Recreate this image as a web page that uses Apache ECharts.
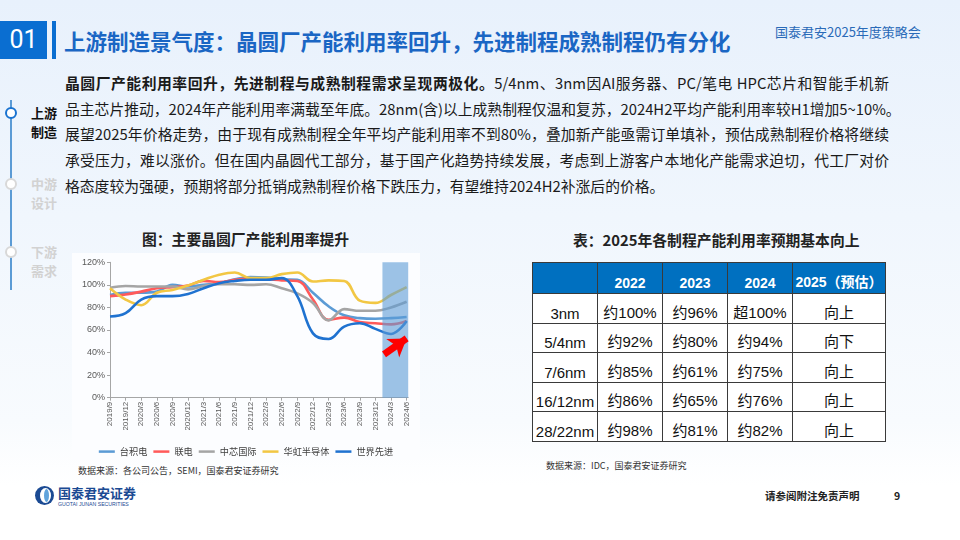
<!DOCTYPE html>
<html>
<head>
<meta charset="utf-8">
<script src="https://cdn.jsdelivr.net/npm/echarts@6/dist/echarts.min.js"></script>
<style>
  body {
    margin: 0;
    width: 960px;
    height: 540px;
    overflow: hidden;
    position: relative;
    font-family: "Noto Sans CJK SC", "Noto Sans", sans-serif;
    background: linear-gradient(180deg, #e8f1fc 0%, #f0f6fd 40%, #f8fbfe 78%, #ffffff 90%);
  }
  .abs { position: absolute; white-space: nowrap; }
  .num-box {
    left: 0; top: 21px; width: 47px; height: 38px;
    background: #0a6ed1; color: #fff;
    font-family: Roboto, "Noto Sans", sans-serif; font-size: 25px;
    line-height: 38px; text-align: center;
  }
  .bar { left: 52px; top: 21px; width: 4px; height: 38px; background: #0a6ed1; }
  .title { left: 64px; top: 26px; font-size: 21.5px; font-weight: 700; color: #1a66c4; line-height: 30px; }
  .event { left: 775px; top: 23px; font-size: 13px; color: #2a6ab8; line-height: 18px; }

  .side-line { left: 10px; top: 100px; width: 2px; height: 190px; background: #5b9bd5; }
  .dot { width: 8px; height: 8px; border-radius: 50%; background: #fff; }
  .side-label { left: 31px; font-size: 13px; font-weight: 700; line-height: 19px; white-space: normal; width: 28px; }

  .para { left: 65px; font-size: 14.8px; color: #1a1a1a; line-height: 20px; }
  .just { width: 824px; text-align: justify; text-align-last: justify; }

  .cap { font-size: 14.8px; font-weight: 700; color: #222; line-height: 20px; }
  .src { font-size: 9px; color: #333; line-height: 12px; }

  table.rates {
    position: absolute; left: 532px; top: 262px;
    border-collapse: collapse; table-layout: fixed;
    font-family: "Liberation Sans", "Noto Sans CJK SC", sans-serif;
  }
  table.rates td {
    border: 1.3px solid #3a3a3a; text-align: center; padding: 0 0 1px 0;
    height: 27.5px; vertical-align: bottom; font-size: 15px; color: #111;
    background: #fff; white-space: nowrap;
  }
  table.rates tr.head td {
    background: #0070c0; color: #fff; font-weight: 700; font-size: 14px;
    height: 28px; padding-bottom: 2px;
  }
  .foot-right { font-size: 10.5px; color: #222; font-weight: 700; line-height: 14px; }
</style>
</head>
<body>

<div class="abs num-box">01</div>
<div class="abs bar"></div>
<div class="abs title">上游制造景气度：晶圆厂产能利用率回升，先进制程成熟制程仍有分化</div>
<div class="abs event">国泰君安2025年度策略会</div>

<div class="abs side-line"></div>
<div class="abs dot" style="left:5px;top:107px;border:2px solid #1a73d0;"></div>
<div class="abs dot" style="left:5px;top:178px;border:2px solid #d8d8d8;"></div>
<div class="abs dot" style="left:5px;top:246px;border:2px solid #d8d8d8;"></div>
<div class="abs side-label" style="top:103px;color:#111;">上游制造</div>
<div class="abs side-label" style="top:174px;color:#d2d2d2;">中游设计</div>
<div class="abs side-label" style="top:242px;color:#d2d2d2;">下游需求</div>

<div id="paragraph"></div>

<div class="abs cap" style="left:142px;top:229px;">图：主要晶圆厂产能利用率提升</div>
<div class="abs cap" style="left:573px;top:230px;">表：2025年各制程产能利用率预期基本向上</div>

<div id="chart" class="abs" style="left:72px;top:253px;width:348px;height:207px;"></div>
<div class="abs src" style="left:78px;top:465px;">数据来源：各公司公告，SEMI，国泰君安证券研究</div>

<table class="rates" id="rates">
  <colgroup>
    <col style="width:65px"><col style="width:65px"><col style="width:65px"><col style="width:65px"><col style="width:93px">
  </colgroup>
</table>
<div class="abs src" style="left:546px;top:460px;">数据来源：IDC，国泰君安证券研究</div>

<!-- footer -->
<div class="abs" style="left:35px;top:486px;width:19px;height:19px;border-radius:50%;background:#1b4a93;"></div>
<div class="abs" style="left:40px;top:488px;width:11px;height:15px;border-radius:50%;background:#fff;"></div>
<div class="abs" style="left:44px;top:489px;width:5px;height:13px;border-radius:50%;background:#5fa3dc;"></div>
<div class="abs" style="left:58px;top:484px;font-size:13px;font-weight:700;color:#1b4a93;line-height:17px;">国泰君安证券</div>
<div class="abs" style="left:58px;top:501px;font-size:5.2px;color:#1b4a93;line-height:7px;font-family:'Liberation Sans',sans-serif;">GUOTAI JUNAN SECURITIES</div>
<div class="abs foot-right" style="left:765px;top:489px;">请参阅附注免责声明</div>
<div class="abs foot-right" style="left:894px;top:489px;">9</div>

<script>
// body text, one entry per printed line
const paraLines = [
  '<b>晶圆厂产能利用率回升，先进制程与成熟制程需求呈现两极化。</b>5/4nm、3nm因AI服务器、PC/笔电 HPC芯片和智能手机新',
  '品主芯片推动，2024年产能利用率满载至年底。28nm(含)以上成熟制程仅温和复苏，2024H2平均产能利用率较H1增加5~10%。',
  '展望2025年价格走势，由于现有成熟制程全年平均产能利用率不到80%，叠加新产能亟需订单填补，预估成熟制程价格将继续',
  '承受压力，难以涨价。但在国内晶圆代工部分，基于国产化趋势持续发展，考虑到上游客户本地化产能需求迫切，代工厂对价',
  '格态度较为强硬，预期将部分抵销成熟制程价格下跌压力，有望维持2024H2补涨后的价格。'
];

// chart data
const quarters = ['2019/9', '2019/12', '2020/3', '2020/6', '2020/9', '2020/12', '2021/3', '2021/6', '2021/9', '2021/12',
  '2022/3', '2022/6', '2022/9', '2022/12', '2023/3', '2023/6', '2023/9', '2023/12', '2024/3', '2024/6'];
const tsmc    = [91, 93, 93, 94, 100, 98.5, 100, 101.5, 105, 107, 106.5, 105, 104.5, 93, 81, 73, 70.5, 70, 70.5, 71.5];
const umc     = [90, 91.5, 94, 97, 98, 99.5, 103.5, 102.5, 104.5, 105.5, 105, 104, 103.5, 87, 69, 71, 67, 66, 65, 68];
const smic    = [97.5, 99, 98.5, 98.5, 98.5, 96, 99, 100.5, 100.5, 100, 100.5, 97, 92.5, 84, 68.5, 78.5, 77, 77, 80, 85];
const huahong = [97, 87, 82, 93, 95.5, 99.5, 104.5, 109, 111, 106, 106, 109.5, 111, 103, 104, 103.5, 86, 84, 91, 98];
const vis     = [72, 75, 87, 90, 90, 92, 97, 101.5, 103.5, 104.5, 104.5, 106, 90, 57, 52, 63, 66, 61, 56.5, 68];
const yTicks = [0, 20, 40, 60, 80, 100, 120];

// highlighted period and arrow (in axis units)
const highlightRange = [17.45, 19.1];
const arrowFrom = [17.55, 38.5];
const arrowTo = [19.0, 52.5];

// table data
const tableCols = ['', '2022', '2023', '2024', '2025（预估）'];
const nodes = ['3nm', '5/4nm', '7/6nm', '16/12nm', '28/22nm'];
const util2022 = ['约100%', '约92%', '约85%', '约86%', '约98%'];
const util2023 = ['约96%', '约80%', '约61%', '约65%', '约81%'];
const util2024 = ['超100%', '约94%', '约75%', '约76%', '约82%'];
const outlook2025 = ['向上', '向下', '向上', '向上', '向上'];

// paragraph
const paraTops = [73, 98.5, 124, 150, 176];
const paraBox = document.getElementById('paragraph');
paraLines.forEach((line, i) => {
  const div = document.createElement('div');
  div.className = 'abs para' + (i < 4 ? ' just' : '');
  div.style.top = paraTops[i] + 'px';
  if (i === 1) div.style.width = '830px';
  div.innerHTML = line;
  paraBox.appendChild(div);
});

// table
const table = document.getElementById('rates');
let html = '<tr class="head">' + tableCols.map(c => `<td>${c}</td>`).join('') + '</tr>';
nodes.forEach((n, i) => {
  html += `<tr><td>${n}</td><td>${util2022[i]}</td><td>${util2023[i]}</td><td>${util2024[i]}</td><td>${outlook2025[i]}</td></tr>`;
});
table.insertAdjacentHTML('beforeend', html);

// chart
const chart = echarts.init(document.getElementById('chart'));
const colors = ['#5b9bd5', '#ff5a5a', '#a5a5a5', '#f2c744', '#1f72d0'];
const names = ['台积电', '联电', '中芯国际', '华虹半导体', '世界先进'];
const values = [tsmc, umc, smic, huahong, vis];

const series = values.map((arr, k) => ({
  name: names[k],
  type: 'line',
  smooth: 0.4,
  symbol: 'none',
  data: arr.map((v, i) => [i, v]),
  lineStyle: { width: 2.6, color: colors[k] },
  itemStyle: { color: colors[k] },
  z: 2
}));

series[4].markArea = {
  silent: true,
  z: 3,
  itemStyle: { color: 'rgba(91,155,213,0.6)', opacity: 1 },
  data: [[{ xAxis: highlightRange[0] }, { xAxis: highlightRange[1] }]]
};
series[4].markLine = {
  silent: true,
  z: 6,
  symbol: ['none', 'arrow'],
  symbolSize: 17,
  label: { show: false },
  lineStyle: { color: '#ff0000', width: 7, type: 'solid', opacity: 1 },
  itemStyle: { color: '#ff0000' },
  animation: false,
  data: [[{ coord: arrowFrom }, { coord: arrowTo }]]
};

chart.setOption({
  animation: false,
  backgroundColor: '#fcfdff',
  textStyle: { fontFamily: '"Liberation Sans", "Noto Sans CJK SC", sans-serif' },
  grid: { left: 38, right: 11.8, top: 9.3, bottom: 62.3, containLabel: false, outerBoundsMode: 'none' },
  legend: {
    data: names,
    top: 189,
    left: 'center',
    icon: 'rect',
    itemWidth: 16,
    itemHeight: 2.5,
    itemGap: 6,
    textStyle: { fontSize: 9.2, color: '#404040', fontFamily: '"Noto Sans CJK SC", sans-serif' }
  },
  xAxis: {
    type: 'value',
    min: 0,
    max: highlightRange[1],
    interval: 1,
    axisLine: { show: true, lineStyle: { color: '#a6a6a6', width: 1 } },
    axisTick: { show: true, length: 3, lineStyle: { color: '#a6a6a6' } },
    splitLine: { show: false },
    axisLabel: {
      rotate: 90,
      fontSize: 8,
      color: '#595959',
      margin: 4,
      showMaxLabel: false,
      formatter: v => (Number.isInteger(v) && quarters[v]) ? quarters[v] : ''
    }
  },
  yAxis: {
    type: 'value',
    min: yTicks[0],
    max: yTicks[yTicks.length - 1],
    interval: 20,
    axisLine: { show: true, lineStyle: { color: '#a6a6a6', width: 1 } },
    axisTick: { show: true, length: 3, lineStyle: { color: '#a6a6a6' } },
    splitLine: { show: false },
    axisLabel: { fontSize: 9, color: '#595959', margin: 5, formatter: '{value}%' }
  },
  series
});
</script>
</body>
</html>
